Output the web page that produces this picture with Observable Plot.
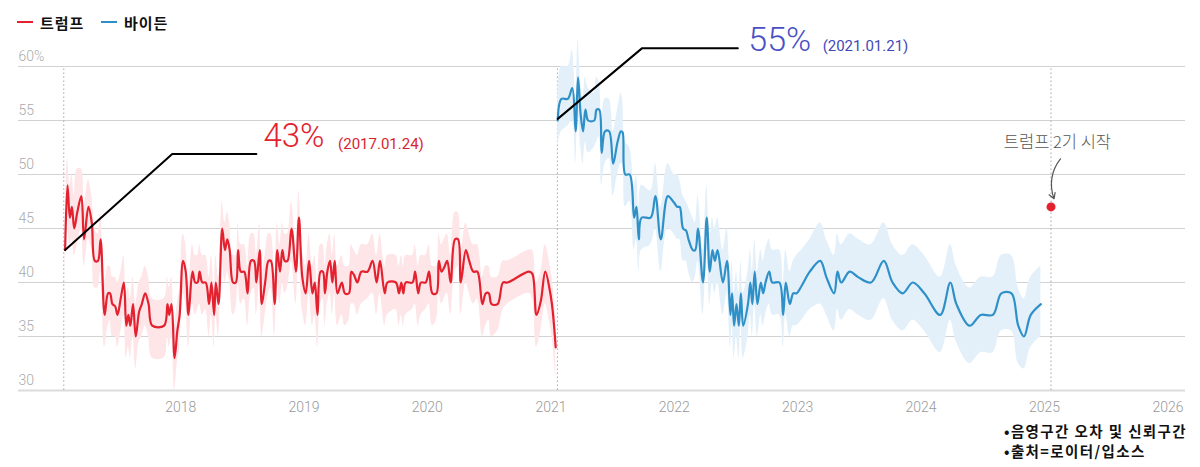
<!DOCTYPE html>
<html><head><meta charset="utf-8">
<script src="https://cdn.jsdelivr.net/npm/d3@7"></script>
<script src="https://cdn.jsdelivr.net/npm/@observablehq/plot@0.6"></script>
<style>
html,body{margin:0;padding:0;background:#fff;overflow:hidden;width:1200px;height:467px;}
#legend{height:34px;position:relative;font-family:"Noto Sans CJK KR",sans-serif;font-weight:700;font-size:15px;color:#111;letter-spacing:1px;}
.item{position:absolute;top:13px;height:18px;display:flex;align-items:center;}
.sw{display:inline-block;width:16px;height:2px;margin-right:7px;}
#chart{position:relative;}
#caption{position:absolute;left:1004px;top:421px;font-family:"Noto Sans CJK KR",sans-serif;font-weight:700;font-size:14.5px;line-height:20px;color:#111;letter-spacing:1.4px;}
</style></head><body>
<div id="legend">
  <div class="item" style="left:17px"><span class="sw" style="background:#e3212f"></span>트럼프</div>
  <div class="item" style="left:101px"><span class="sw" style="background:#2f90c8"></span>바이든</div>
</div>
<div id="chart"></div>
<div id="caption">•음영구간 오차 및 신뢰구간<br>•출처=로이터/입소스</div>
<script>
// [date, approval %, lower CI, upper CI]
const trumpData = [
["2017-01-24",43,40.5,46],["2017-01-31",49,46,51.5],["2017-02-07",46,43.5,49],["2017-02-13",47,44,50],
["2017-02-20",45,42.5,48],["2017-03-01",46.5,43.5,50.5],["2017-03-13",48,45,50.5],["2017-03-21",44,41.5,47],
["2017-04-03",47,44,49.5],["2017-04-13",45.5,43,48],["2017-04-22",42,39.5,45],["2017-05-01",42,39.5,44.5],
["2017-05-09",44,41,46.5],["2017-05-21",37,34,40],["2017-05-31",39,36,41.5],["2017-06-06",39,36.5,41.5],
["2017-06-13",38,35,40.5],["2017-06-21",37.8,35,40.5],["2017-06-28",37,34,40],["2017-07-08",38.6,35.5,41],
["2017-07-17",40,37,42.5],["2017-07-24",36,33,39],["2017-07-30",37,34,39.5],["2017-08-05",36,33,38.5],
["2017-08-13",38,35,40.5],["2017-08-21",35,32,38],["2017-08-31",37.3,34.5,40],["2017-09-08",38,35,40.5],
["2017-09-18",39,36,41.5],["2017-09-28",38,35,40.5],["2017-10-09",36,33,38.5],["2017-11-13",36,33,38.5],
["2017-11-23",38,35,40.5],["2017-11-28",37,34,39.5],["2017-12-05",38,35,40.5],["2017-12-14",33,30,36],
["2017-12-22",35.5,32.5,38],["2017-12-29",37,34,39.5],["2018-01-08",42,39,44.5],["2018-01-16",41,38,43.5],
["2018-01-24",37,34,39.5],["2018-02-05",41,38,43.5],["2018-02-13",40,37,42.5],["2018-02-20",40,37.5,42.5],
["2018-02-26",41,38,43.5],["2018-03-06",40,37,42.5],["2018-03-16",40,37.5,42.5],["2018-03-26",38,35,40.5],
["2018-04-02",40,37,42.5],["2018-04-10",37,34,39.5],["2018-04-15",40,37,42.5],["2018-04-23",38,35,40.5],
["2018-05-04",45,42,47.5],["2018-05-12",43,40,45.5],["2018-05-19",44,41,46.5],["2018-05-26",43,40,45.5],
["2018-06-05",40,37,42.5],["2018-06-13",40,37.5,42.5],["2018-06-20",43,40,45.5],["2018-06-28",41,38,43.5],
["2018-07-08",41,38.5,43.5],["2018-07-18",39,36,41.5],["2018-07-28",42,39,44.5],["2018-08-06",42,39.5,44.5],
["2018-08-13",40,37,42.5],["2018-08-23",43,40,45.5],["2018-08-29",38,35,40.5],["2018-09-08",40,37,42.5],
["2018-09-18",42,39,44.5],["2018-09-25",42,39.5,44.5],["2018-10-06",38,35,40.5],["2018-10-14",43,40,45.5],
["2018-10-22",41,38,43.5],["2018-10-29",43,40,45.5],["2018-11-05",42,39,44.5],["2018-11-13",42,39.5,44.5],
["2018-11-25",45,42,47.5],["2018-12-08",41,38,43.5],["2018-12-17",46,43,48.5],["2018-12-27",40.5,37.5,43],
["2019-01-06",39,36,41.5],["2019-01-16",42,39,44.5],["2019-01-26",39,36,41.5],["2019-02-02",40,37,42.5],
["2019-02-10",37,34,39.5],["2019-02-19",41,38,43.5],["2019-02-26",41,38.5,43.5],["2019-03-04",39,36,41.5],
["2019-03-11",41,38,43.5],["2019-03-19",42,39,44.5],["2019-03-26",40,37,42.5],["2019-04-02",42,39,44.5],
["2019-04-10",39,36,41.5],["2019-04-23",40,37,42.5],["2019-05-02",39,36,41.5],["2019-05-14",39,36.5,41.5],
["2019-05-21",41,38,43.5],["2019-05-29",40.7,38,43],["2019-06-08",40,37,42.5],["2019-06-20",41,38,43.5],
["2019-07-08",41,38.5,43.5],["2019-07-23",42,39,44.5],["2019-08-04",40,37,42.5],["2019-08-14",42,39,44.5],
["2019-08-28",39,36,41.5],["2019-09-05",40,37,42.5],["2019-09-30",40,37.5,42.5],["2019-10-09",39,36,41.5],
["2019-10-16",40,37,42.5],["2019-10-22",39,36,41.5],["2019-10-29",40,37,42.5],["2019-11-18",40,37.5,42.5],
["2019-11-26",41,38,43.5],["2019-12-05",39,36,41.5],["2019-12-13",40,37,42.5],["2019-12-27",40,37.5,42.5],
["2020-01-06",41,38,43.5],["2020-01-16",39,36,41.5],["2020-01-28",39,36.5,41.5],["2020-02-04",42,39,44.5],
["2020-02-12",41,38,43.5],["2020-02-20",41.4,38.5,44],["2020-02-29",42,39,44.5],["2020-03-10",40,37,42.5],
["2020-03-23",44,41,46.5],["2020-04-01",44,41.5,46.5],["2020-04-09",40,37,42.5],["2020-04-24",43,40,45.5],
["2020-05-04",42,39,44.5],["2020-05-16",41,38,43.5],["2020-05-28",41,38.5,43.5],["2020-06-12",38,35,40.5],
["2020-06-22",39,36,41.5],["2020-07-01",39,36.5,41.5],["2020-07-09",38,35,40.5],["2020-07-27",38,35.5,40.5],
["2020-08-12",40,37.5,42],["2020-08-25",40,38,42],["2020-10-28",41,39,43],["2020-11-07",40.8,38.5,43],
["2020-11-19",37,34,40],["2020-12-02",38.3,35.5,41],["2020-12-15",41,38,43.5],["2020-12-30",39,36,41.5],
["2021-01-06",37.4,34.5,40],["2021-01-15",34,31,37]
];
const bidenData = [
["2021-01-21",55,52.5,57.5],["2021-02-01",57,54,60],["2021-02-20",57,54.5,60],["2021-03-05",58,55,61.5],
["2021-03-15",54,51,57],["2021-03-22",59,56,62.5],["2021-03-30",55.5,52.5,58.5],["2021-04-06",54,51,57],
["2021-04-13",56,53,59],["2021-04-21",55,52,58],["2021-05-09",55,52.5,57.5],["2021-05-16",56,53,59],
["2021-05-24",56,53.5,58.5],["2021-05-31",52,49,55],["2021-06-10",54,51,57],["2021-06-22",54,51.5,57],
["2021-07-04",51,48,54],["2021-07-17",53,50,56],["2021-07-27",54,51,57.5],["2021-08-01",53.9,51,57],
["2021-08-09",50,47,53],["2021-08-22",50,47.5,52.5],["2021-09-04",46,43,49],["2021-09-11",47,44,50],
["2021-09-18",44,41,47],["2021-09-26",46,43,49],["2021-10-23",46,43.5,48.5],["2021-11-06",48,45,51],
["2021-11-22",44,41,47],["2021-12-13",48,45,51],["2021-12-31",47.4,44.5,50],["2022-01-10",47,44,50],
["2022-01-17",47,44,49.5],["2022-01-27",45,42,48],["2022-02-05",44.8,42,47.5],["2022-02-12",44,41,47],
["2022-02-25",43,40,46],["2022-03-04",43,40.5,45.5],["2022-03-12",45,42,48],["2022-03-27",40,37,43],
["2022-04-07",46,43,49],["2022-04-16",41,38,44],["2022-04-24",43,40,46],["2022-05-01",42,39,45],
["2022-05-09",43,40,46],["2022-05-25",40,37,43],["2022-06-06",42,39,45],["2022-06-16",37,34,40],
["2022-06-21",39,36,42],["2022-06-27",36,33,39],["2022-07-04",38,35,41],["2022-07-11",36,33,39],
["2022-07-17",39,36,42],["2022-07-24",36,33,39],["2022-08-07",38,35,41],["2022-08-14",40,37,43],
["2022-08-20",38,35,41],["2022-08-27",41,38,44],["2022-09-04",38,35,41],["2022-09-14",40,37,43],
["2022-09-21",39,36,42],["2022-09-28",40,37,43],["2022-10-09",41,38,44],["2022-10-18",40,37,43],
["2022-11-08",40,37,43],["2022-11-19",37,34,40],["2022-11-27",40,37,43],["2022-12-09",38,35,41],
["2022-12-19",39,36,42],["2022-12-29",39,36,42.5],["2023-01-13",39.7,36.5,43],["2023-02-06",41,37.5,44],
["2023-03-09",42,38,45.5],["2023-03-27",40.5,37,44],["2023-04-19",39,35.5,42.5],["2023-04-29",41,37.5,44.5],
["2023-05-10",40,36.5,43.5],["2023-06-04",41,37.5,44.5],["2023-06-29",40.5,37,44],["2023-08-06",40,36.5,43.5],
["2023-09-13",42,38.5,45.5],["2023-10-09",40,36.5,43.5],["2023-11-08",39,35.5,42.5],["2023-12-08",40,36.5,43.5],
["2024-01-11",39,35.5,42.5],["2024-02-27",37,33.5,40.5],["2024-03-28",40,36.5,43.5],["2024-04-15",38,34.5,41.5],
["2024-05-24",36,32.5,39.5],["2024-06-26",37,33.5,40.5],["2024-08-01",37,33.5,40.5],["2024-08-26",39,35.5,42.5],
["2024-09-25",39,35.5,42.5],["2024-10-15",36,32.5,39.5],["2024-11-01",35,32,38.5],["2024-11-21",37,34,40.5],
["2024-12-21",38,35,41.5]
];
const yTicks = [30,35,40,45,50,55,60];
const xTickYears = ["2018","2019","2020","2021","2022","2023","2024","2025","2026"];
const inaugurations = ["2017-01-20","2021-01-20","2025-01-20"];
const trumpCallout = [["2017-01-24",43],["2017-12-07",51.9],["2018-08-13",51.9]];
const bidenCallout = [["2021-01-21",55.15],["2021-09-28",61.7],["2022-07-08",61.7]];
const calloutTexts = [
  {date:"2018-09-03", value:53.5, text:"43%", size:33, color:"#e3212f", weight:300},
  {date:"2019-04-12", value:52.85, text:"(2017.01.24)", size:15, color:"#d91f2d", weight:400},
  {date:"2022-08-08", value:62.4, text:"55%", size:34, color:"#4a50c4", weight:300},
  {date:"2023-03-16", value:61.9, text:"(2021.01.21)", size:15, color:"#4449b8", weight:400}
];
const secondTerm = {date:"2025-01-20", value:47, label:"트럼프 2기 시작", labelDate:"2025-02-08", labelValue:52.9,
  arrowFrom:["2025-02-17",51.45], arrowTo:["2025-01-29",47.75]};

const P = d3.timeParse("%Y-%m-%d");
const toObj = r => ({date:P(r[0]), v:r[1], lo:r[2], hi:r[3]});
const trump = trumpData.map(toObj);
const biden = bidenData.map(toObj);
const pt = r => ({date:P(r[0]), v:r[1]});
const curve = "catmull-rom";

const chart = Plot.plot({
  width:1200, height:386,
  marginLeft:18, marginRight:15, marginTop:32, marginBottom:30,
  x:{type:"time", domain:[P("2016-09-08"), P("2026-02-22")]},
  y:{domain:[30,60]},
  style:{overflow:"visible", fontFamily:"Roboto, sans-serif", background:"white"},
  marks:[
    Plot.ruleY(yTicks.filter(d=>d>30), {stroke:"#d2d2d2", strokeWidth:1}),
    Plot.ruleY([30], {stroke:"#dcdcdc", strokeWidth:2}),
    Plot.ruleX(inaugurations.map(P), {y1:30, y2:60, stroke:"#a8a8a8", strokeWidth:1, strokeDasharray:"1.5,2.5"}),
    Plot.areaY(trump, {x:"date", y1:"lo", y2:"hi", fill:"#fde5e8", curve}),
    Plot.areaY(biden, {x:"date", y1:"lo", y2:"hi", fill:"#e3f0fa", curve}),
    Plot.line(trump, {x:"date", y:"v", stroke:"#e3212f", strokeWidth:2.2, curve}),
    Plot.line(biden, {x:"date", y:"v", stroke:"#2f90c8", strokeWidth:2.2, curve}),
    Plot.line(trumpCallout.map(pt), {x:"date", y:"v", stroke:"#000", strokeWidth:2}),
    Plot.line(bidenCallout.map(pt), {x:"date", y:"v", stroke:"#000", strokeWidth:2}),
    ...calloutTexts.map(c => Plot.text([c], {x:d=>P(d.date), y:"value", text:"text", fontSize:c.size, fill:c.color,
      textAnchor:"start", lineAnchor:"middle", fontFamily:"Roboto, sans-serif", fontWeight:c.weight})),
    Plot.dot([secondTerm], {x:d=>P(d.date), y:"value", r:4.5, fill:"#e3212f"}),
    Plot.text([secondTerm], {x:d=>P(d.labelDate), y:"labelValue", text:"label", fontSize:16.5, fill:"#555",
      fontFamily:"'Noto Sans CJK KR', sans-serif", fontWeight:300}),
    Plot.arrow([secondTerm], {x1:d=>P(d.arrowFrom[0]), y1:d=>d.arrowFrom[1], x2:d=>P(d.arrowTo[0]), y2:d=>d.arrowTo[1],
      bend:-30, stroke:"#555", strokeWidth:1.2, headLength:8}),
    Plot.axisY({ticks:yTicks, anchor:"left", tickSize:0, tickPadding:0, textAnchor:"start", dy:-10,
      tickFormat:d=>d===60?"60%":String(d), fill:"#aaa", fontSize:14, fontWeight:300, label:null}),
    Plot.axisX({ticks:xTickYears.map(y=>P(y+"-01-01")), tickSize:0, tickPadding:12, tickFormat:d3.timeFormat("%Y"),
      fill:"#999", fontSize:14, fontWeight:300, label:null})
  ]
});
document.getElementById("chart").appendChild(chart);
</script>
</body></html>
